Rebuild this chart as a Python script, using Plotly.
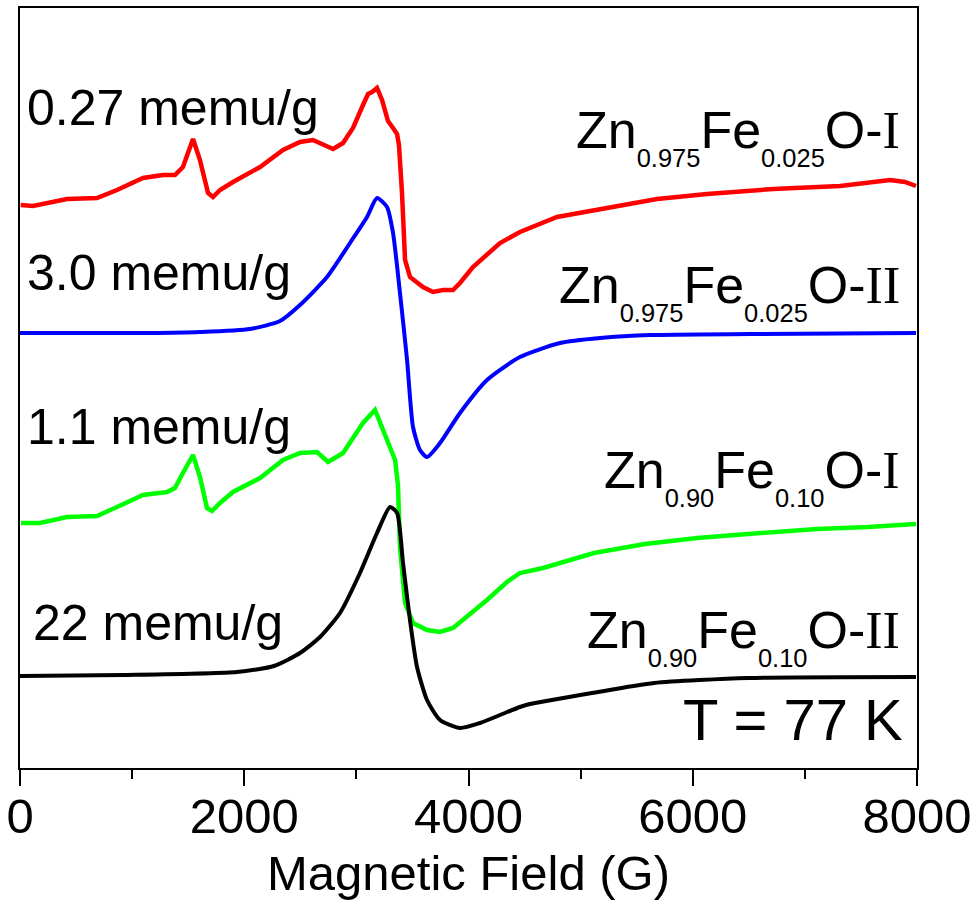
import plotly.graph_objects as go

# ---- data (field in G, offset intensity in a.u.) ----
red_field = [6, 116, 419, 687, 865, 1097, 1275, 1382, 1453, 1543, 1605, 1677, 1721, 1784, 1900,
             2141, 2346, 2497, 2613, 2738, 2792, 2881, 2970, 3059, 3104, 3140, 3184, 3229, 3282,
             3327, 3363, 3380, 3407, 3434, 3478, 3594, 3684, 3773, 3862, 3924, 4040, 4281, 4459,
             4790, 5235, 5681, 6127, 6716, 7314, 7760, 7893, 7991]
red_int = [563, 562, 569, 570, 578, 590, 593, 593, 601, 629, 608, 575, 571, 578, 586,
           601, 618, 626, 628, 621, 619, 625, 640, 663, 674, 676, 680, 668, 647,
           640, 634, 623, 575, 508, 491, 481, 476, 478, 478, 485, 501, 525, 536,
           551, 560, 569, 574, 579, 582, 588, 586, 582]

blue_field = [0, 1159, 1605, 2051, 2319, 2497, 2738, 2943, 3095, 3184, 3273, 3327, 3389, 3452,
              3505, 3567, 3630, 3746, 3924, 4165, 4459, 4816, 5173, 5619, 6511, 7991]
blue_int = [435, 435, 436, 439, 447, 463, 491, 525, 551, 570, 561, 535, 475, 408,
            341, 318, 311, 325, 355, 388, 411, 425, 430, 433, 434, 435]

green_field = [9, 178, 419, 687, 865, 1097, 1311, 1382, 1453, 1543, 1605, 1668, 1712, 1784, 1900,
               2141, 2346, 2497, 2649, 2747, 2792, 2881, 2970, 3059, 3166, 3238, 3300, 3345, 3371,
               3389, 3434, 3505, 3630, 3746, 3862, 3987, 4165, 4343, 4459, 4665, 5119, 5574, 6038,
               6493, 7108, 7563, 7991]
green_int = [245, 245, 251, 252, 261, 273, 276, 280, 295, 313, 291, 260, 257, 265, 276,
             290, 308, 315, 316, 306, 309, 315, 330, 345, 358, 338, 318, 308, 283,
             221, 165, 145, 138, 136, 140, 151, 168, 186, 195, 200, 215, 224, 230,
             234, 239, 241, 244]

black_field = [0, 937, 1935, 2265, 2497, 2676, 2854, 3032, 3184, 3300, 3363, 3416, 3478, 3541,
               3630, 3746, 3924, 4103, 4281, 4459, 4548, 5102, 5655, 6493, 7991]
black_int = [92, 93, 96, 102, 115, 131, 155, 195, 235, 261, 255, 205, 148, 101,
             68, 48, 40, 45, 53, 61, 64, 75, 85, 90, 91]

x_ticks = [0, 2000, 4000, 6000, 8000]
x_title = "Magnetic Field (G)"
moments = ["0.27 memu/g", "3.0 memu/g", "1.1 memu/g", "22 memu/g"]
samples = [
    ("0.975", "0.025", "I"),
    ("0.975", "0.025", "II"),
    ("0.90", "0.10", "I"),
    ("0.90", "0.10", "II"),
]
temp_label = "T = 77 K"

# ---- layout helpers (pixel -> paper) ----
W, H = 977, 905
ML, MR, MT, MB = 20, 60, 8, 137
PW, PH = W - ML - MR, H - MT - MB


def px(xp):
    return (xp - ML) / PW


def py(yp):
    return (H - MB - yp) / PH


SANS = "Liberation Sans"
SERIF = "Liberation Serif"

fig = go.Figure()
series = [
    (red_field, red_int, "#ff0000", "linear", 4.5),
    (blue_field, blue_int, "#0000ff", "spline", 4),
    (green_field, green_int, "#00ff00", "linear", 4.5),
    (black_field, black_int, "#000000", "spline", 4),
]
for xs, ys, col, shape, lw in series:
    line = dict(color=col, width=lw, shape=shape)
    if shape == "spline":
        line["smoothing"] = 0.6
    fig.add_trace(go.Scatter(x=xs, y=ys, mode="lines", line=line, hoverinfo="skip"))

annotations = []
# left moment labels: (left px, box top px)
left_pos = [(25, 78), (25, 243), (25, 397), (31, 593)]
for txt, (xl, yt) in zip(moments, left_pos):
    annotations.append(dict(xref="paper", yref="paper", x=px(xl), y=py(yt),
                            xanchor="left", yanchor="top", showarrow=False, text=txt,
                            font=dict(family=SANS, size=50, color="black")))

right_pos = [99, 254, 439, 599]
for (a, b, roman), yt in zip(samples, right_pos):
    txt = ("Zn<sub><sub>%s</sub></sub>Fe<sub><sub>%s</sub></sub>O-"
           "<span style=\"font-family:%s\">%s</span>") % (a, b, SERIF, roman)
    annotations.append(dict(xref="paper", yref="paper", x=px(902), y=py(yt),
                            xanchor="right", yanchor="top", showarrow=False, text=txt,
                            font=dict(family=SANS, size=52, color="black")))

annotations.append(dict(xref="paper", yref="paper", x=px(905), y=py(685),
                        xanchor="right", yanchor="top", showarrow=False, text=temp_label,
                        font=dict(family=SANS, size=58, color="black")))

fig.update_layout(
    width=W, height=H,
    margin=dict(l=ML, r=MR, t=MT, b=MB, pad=0, autoexpand=False),
    paper_bgcolor="white", plot_bgcolor="white",
    showlegend=False,
    annotations=annotations,
    xaxis=dict(
        range=[0, 8000], tickvals=x_ticks, ticktext=[str(t) for t in x_ticks],
        ticks="outside", ticklen=16, tickwidth=2, tickcolor="black",
        minor=dict(dtick=1000, tick0=0, ticks="outside", ticklen=9, tickwidth=2, tickcolor="black"),
        showline=True, linecolor="black", linewidth=2, mirror=True,
        showgrid=False, zeroline=False, automargin=False,
        ticklabelstandoff=-12,
        tickfont=dict(family=SANS, size=49, color="black"),
        title=dict(text=x_title, font=dict(family=SANS, size=49, color="black"), standoff=14),
    ),
    yaxis=dict(
        range=[0, 760], showticklabels=False, ticks="",
        showline=True, linecolor="black", linewidth=2, mirror=True,
        showgrid=False, zeroline=False, automargin=False,
    ),
)

fig.write_html(
    "out.html",
    config={"displayModeBar": False},
    post_script="document.body.style.margin='0';document.body.style.overflow='hidden';",
)
